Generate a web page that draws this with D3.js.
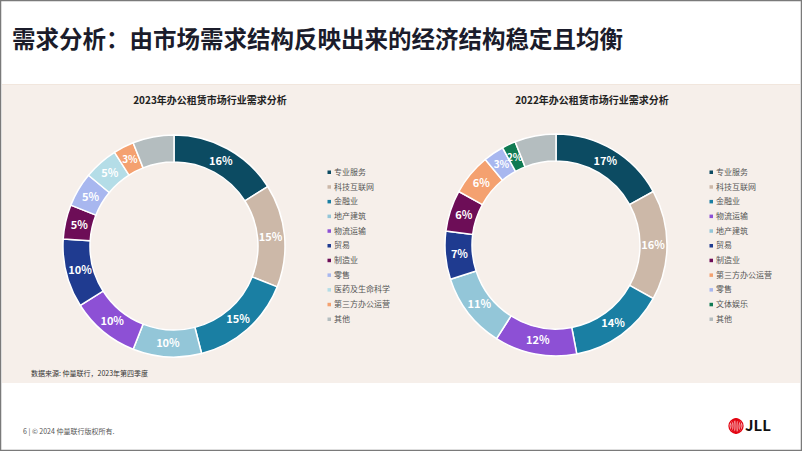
<!DOCTYPE html>
<html><head><meta charset="utf-8">
<script src="https://cdn.jsdelivr.net/npm/d3@7"></script>
<style>
html,body{margin:0;padding:0;background:#fff;}
svg{display:block;}
text{font-family:"Noto Sans CJK SC","Noto Sans",sans-serif;white-space:pre;}
</style></head>
<body>
<svg id="c" width="802" height="451"></svg>
<script>
const pageTitle = "需求分析：由市场需求结构反映出来的经济结构稳定且均衡";
const title2023 = "2023年办公租赁市场行业需求分析";
const title2022 = "2022年办公租赁市场行业需求分析";
const categories2023 = ["专业服务","科技互联网","金融业","地产建筑","物流运输","贸易","制造业","零售","医药及生命科学","第三方办公运营","其他"];
const values2023 = [16,15,15,10,10,10,5,5,5,3,6];
const labels2023 = ["16%","15%","15%","10%","10%","10%","5%","5%","5%","3%",""];
const categories2022 = ["专业服务","科技互联网","金融业","物流运输","地产建筑","贸易","制造业","第三方办公运营","零售","文体娱乐","其他"];
const values2022 = [17,16,14,12,11,7,6,6,3,2,6];
const labels2022 = ["17%","16%","14%","12%","11%","7%","6%","6%","3%","2%",""];
const colorOf = {
  "专业服务":"#0c4b62","科技互联网":"#ccb8a8","金融业":"#1a7fa3","地产建筑":"#93c6d8",
  "物流运输":"#8d50d5","贸易":"#1f3b90","制造业":"#6d0d57","零售":"#a8b7ef",
  "医药及生命科学":"#b4dde7","第三方办公运营":"#f4a170","其他":"#b4bdbf","文体娱乐":"#0f7a52"
};
const sourceText = "数据来源: 仲量联行，2023年第四季度";
const footerText = "6 | © 2024 仲量联行版权所有.";

const svg = d3.select("#c");
svg.append("rect").attr("x",0.5).attr("y",0.5).attr("width",801).attr("height",450)
  .attr("fill","#fff").attr("stroke","#7a7a7a").attr("stroke-width",1.5);
svg.append("text").attr("x",12).attr("y",48).text(pageTitle)
  .attr("font-size",23.5).attr("font-weight",700).attr("fill","#1b1c2b");
svg.append("rect").attr("x",2).attr("y",84).attr("width",798).attr("height",299).attr("fill","#f6efea");
svg.append("line").attr("x1",2).attr("x2",800).attr("y1",84.5).attr("y2",84.5).attr("stroke","#f1e6dd").attr("stroke-width",1);

function donut(cx, cy, title, cats, vals, labels, legX){
  const g = svg.append("g");
  g.append("text").attr("x",cx+36).attr("y",104).attr("text-anchor","middle")
    .attr("font-size",10).attr("font-weight",700).attr("fill","#222").text(title);
  const data = cats.map((c,i)=>({c, v:vals[i], l:labels[i]}));
  const pie = d3.pie().value(d=>d.v).sort(null);
  const arcs = pie(data);
  const arc = d3.arc().innerRadius(84).outerRadius(111);
  const labelArc = d3.arc().innerRadius(97).outerRadius(97);
  const dg = g.append("g").attr("transform",`translate(${cx},${cy})`);
  dg.selectAll("path").data(arcs).join("path").attr("d",arc)
    .attr("fill",d=>colorOf[d.data.c]).attr("stroke","#fff").attr("stroke-width",1.5);
  dg.selectAll("text").data(arcs).join("text")
    .attr("transform",d=>`translate(${labelArc.centroid(d)})`)
    .attr("text-anchor","middle").attr("dy","0.36em")
    .attr("font-family","'Open Sans','Noto Sans',sans-serif")
    .attr("font-size",d=>d.data.v<=3?10:11).attr("font-weight",700).attr("fill","#fff")
    .text(d=>d.data.l);
  const y = d3.scalePoint().domain(cats).range([172,319]);
  const lg = g.append("g");
  cats.forEach(c=>{
    lg.append("rect").attr("x",legX-1.5).attr("y",y(c)-1.5).attr("width",3.5).attr("height",3.5).attr("fill",colorOf[c]);
    lg.append("text").attr("x",legX+5).attr("y",y(c)).attr("dy","0.35em")
      .attr("font-size",8).attr("fill","#555").text(c);
  });
}
donut(174, 246, title2023, categories2023, values2023, labels2023, 329);
donut(556, 245, title2022, categories2022, values2022, labels2022, 711);

svg.append("text").attr("x",31).attr("y",374).attr("dy","0.35em").attr("font-size",7).attr("fill","#333").text(sourceText);
svg.append("text").attr("x",23).attr("y",432).attr("dy","0.35em").attr("font-size",7).attr("fill","#555").text(footerText);

const logo = svg.append("g").attr("transform","translate(736,426)");
[7,5,3,1].forEach(rx=>{
  logo.append("ellipse").attr("cx",0).attr("cy",0).attr("rx",rx).attr("ry",7).attr("fill","none").attr("stroke","#e30613").attr("stroke-width",1.3);
});
svg.append("text").attr("x",745).attr("y",431).attr("font-family","'Liberation Serif','DejaVu Serif',serif")
  .attr("font-size",15).attr("font-weight",700).attr("fill","#111").text("JLL");
</script>
</body></html>
